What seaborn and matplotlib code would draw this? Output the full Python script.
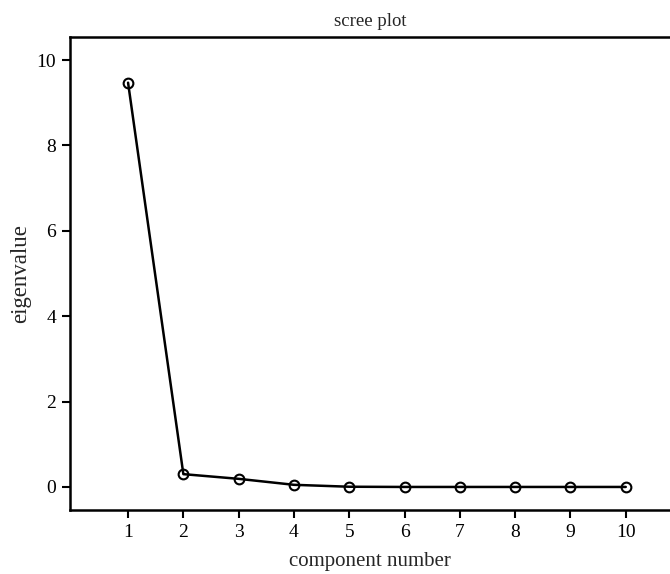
import matplotlib
matplotlib.use("Agg")
import matplotlib.pyplot as plt
import seaborn as sns
import pandas as pd

components = [1, 2, 3, 4, 5, 6, 7, 8, 9, 10]
eigenvalues = [9.47, 0.30, 0.19, 0.05, 0.005, 0.0, 0.0, 0.0, 0.0, 0.0]
y_ticks = [0, 2, 4, 6, 8, 10]

sns.set_theme(style="white")
plt.rcParams['font.family'] = ['Liberation Serif', 'DejaVu Serif']

df = pd.DataFrame({"component": components, "eigenvalue": eigenvalues})

fig = plt.figure(figsize=(6.7, 5.74), dpi=100)
ax = fig.add_axes([70/670, 64/574, 1 - 70/670, (510 - 37)/574])

sns.lineplot(data=df, x="component", y="eigenvalue", ax=ax, color="black",
             linewidth=1.8, marker="o", markersize=7, markerfacecolor="none",
             markeredgecolor="black", markeredgewidth=1.5)

ax.set_xlim(-0.05, 10.8)
ax.set_ylim(-0.54, 10.54)
ax.set_xticks(components)
ax.set_yticks(y_ticks)
ax.tick_params(axis="both", which="major", direction="out", length=6, width=1.5,
               labelsize=14, colors="black", bottom=True, left=True, pad=4)
for s in ["left", "bottom", "top"]:
    ax.spines[s].set_visible(True)
    ax.spines[s].set_color("black")
    ax.spines[s].set_linewidth(1.8)
ax.spines["right"].set_visible(False)

ax.set_title("scree plot", fontsize=13.5, pad=8)
ax.set_xlabel("component number", fontsize=15, labelpad=8)
ax.set_ylabel("eigenvalue", fontsize=16.5, labelpad=4)

fig.savefig("out.png", dpi=100)
